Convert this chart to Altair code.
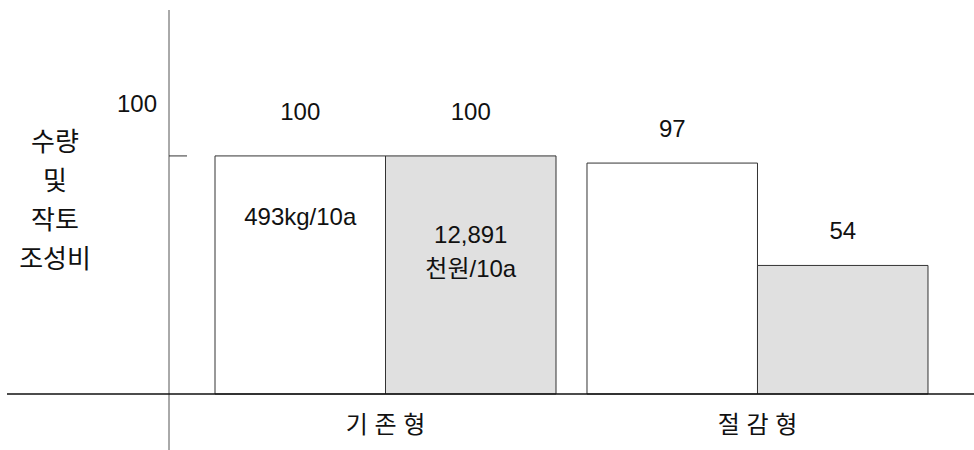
import altair as alt
import pandas as pd

# ---- data ----
groups = ["기 존 형", "기 존 형", "절 감 형", "절 감 형"]
types = ["수량", "작토 조성비", "수량", "작토 조성비"]
values = [100, 100, 97, 54]
value_labels = ["100", "100", "97", "54"]
inner_labels = ["493kg/10a", "12,891\n천원/10a", "", ""]
group_order = ["기 존 형", "절 감 형"]
type_order = ["수량", "작토 조성비"]
y_title_lines = ["수량", "및", "작토", "조성비"]
y_tick_value = 100

df = pd.DataFrame({
    "group": groups,
    "type": types,
    "value": values,
    "vlabel": value_labels,
    "inner": inner_labels,
})

FONT = "Liberation Sans, Noto Sans CJK KR"
FS = 24
W, H = 805, 384

x_enc = alt.X(
    "group:N",
    sort=group_order,
    scale=alt.Scale(domain=group_order, paddingInner=0.0833, paddingOuter=0.1237),
    axis=alt.Axis(
        title=None, domain=False, ticks=False, labelAngle=0,
        labelFont=FONT, labelFontSize=FS, labelColor="#111",
        labelPadding=19,
    ),
)
xoff_enc = alt.XOffset(
    "type:N", sort=type_order,
    scale=alt.Scale(domain=type_order, paddingInner=0, paddingOuter=0),
)
y_scale = alt.Scale(domain=[0, 161.3], nice=False, zero=True)
y_enc = alt.Y("value:Q", scale=y_scale, axis=None)

base = alt.Chart(df)

bars = base.mark_bar(stroke="#333333", strokeWidth=1).encode(
    x=x_enc,
    xOffset=xoff_enc,
    y=y_enc,
    fill=alt.Fill(
        "type:N",
        scale=alt.Scale(domain=type_order, range=["#ffffff", "#e0e0e0"]),
        legend=None,
    ),
)

lab_g1 = base.transform_filter(alt.datum.group == group_order[0]).mark_text(
    font=FONT, fontSize=FS, color="#111", dy=-43, baseline="middle"
).encode(x=x_enc, xOffset=xoff_enc, y=y_enc, text="vlabel:N")

lab_g2 = base.transform_filter(alt.datum.group == group_order[1]).mark_text(
    font=FONT, fontSize=FS, color="#111", dy=-33, baseline="middle"
).encode(x=x_enc, xOffset=xoff_enc, y=y_enc, text="vlabel:N")

inner1 = base.transform_filter(
    (alt.datum.group == group_order[0]) & (alt.datum.type == type_order[0])
).mark_text(
    font=FONT, fontSize=FS, color="#111", dy=62, baseline="middle"
).encode(x=x_enc, xOffset=xoff_enc, y=y_enc, text="inner:N")

inner2 = base.transform_filter(
    (alt.datum.group == group_order[0]) & (alt.datum.type == type_order[1])
).mark_text(
    font=FONT, fontSize=FS, color="#111", dy=80, baseline="middle",
    lineBreak="\n", lineHeight=34,
).encode(x=x_enc, xOffset=xoff_enc, y=y_enc, text="inner:N")

one = alt.Data(values=[{"v": y_tick_value}])

y_axis_line = alt.Chart(one).mark_rule(color="#555555", strokeWidth=1).encode(
    x=alt.value(0), y=alt.value(0), y2=alt.value(440)
)
baseline_rule = alt.Chart(alt.Data(values=[{"v": 0}])).mark_rule(
    color="#111111", strokeWidth=1.5
).encode(
    x=alt.value(-162), x2=alt.value(W), y=alt.Y("v:Q", scale=y_scale, axis=None)
)
tick_rule = alt.Chart(one).mark_rule(color="#333333", strokeWidth=1).encode(
    x=alt.value(0), x2=alt.value(18), y=alt.Y("v:Q", scale=y_scale, axis=None)
)
tick_label = alt.Chart(one).mark_text(
    font=FONT, fontSize=FS, color="#111", align="right", baseline="middle", dy=-51
).encode(
    x=alt.value(-12), y=alt.Y("v:Q", scale=y_scale, axis=None), text=alt.Text("v:Q")
)
y_title = alt.Chart(one).mark_text(
    text=y_title_lines, font=FONT, fontSize=26, color="#111",
    align="center", baseline="middle", lineHeight=39,
).encode(x=alt.value(-114), y=alt.value(133))

chart = alt.layer(
    bars, lab_g1, lab_g2, inner1, inner2,
    y_axis_line, baseline_rule, tick_rule, tick_label, y_title,
).properties(
    width=W, height=H,
    autosize=alt.AutoSizeParams(type="none"),
    padding={"left": 169, "top": 10, "right": 0, "bottom": 56},
    background="white",
).configure_view(stroke=None)

chart.save("out.html", embed_options={"renderer": "svg", "actions": False})
